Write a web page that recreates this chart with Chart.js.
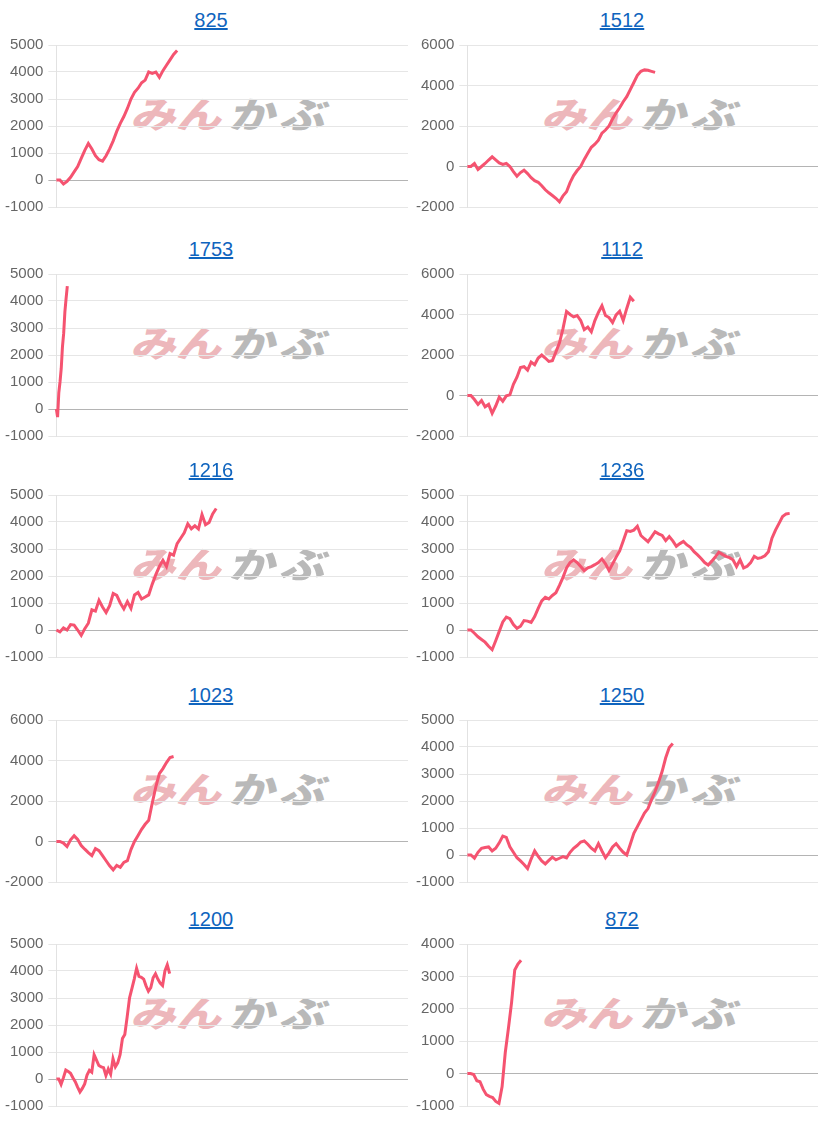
<!DOCTYPE html>
<html>
<head>
<meta charset="utf-8">
<script src="https://cdn.jsdelivr.net/npm/chart.js@4.4.0/dist/chart.umd.min.js"></script>
<style>
  body { margin: 0; background: #fff; }
  #grid { position: relative; width: 822px; height: 1125px; overflow: hidden; }
  .cell { position: absolute; width: 411px; height: 225px; }
  .title { position: absolute; top: 9px; left: 11px; width: 400px; text-align: center;
           font: 20px "Liberation Sans", Arial, sans-serif; line-height: 24px; }
  .title a { color: #0f64be; text-decoration: underline; }
  .wm { position: absolute; left: 134px; top: 94px; white-space: nowrap;
        font: 900 38px "Noto Sans CJK JP", sans-serif; line-height: 40px;
        transform: skewX(-14deg) scaleX(1.2) scaleY(0.95); transform-origin: left center; }
  .wm .p { color: #edb7bb; }
  .wm .g { color: #b9b9b9; margin-left: 6px; letter-spacing: 4px; }
  canvas { position: absolute; top: 32px; left: 0; }
</style>
</head>
<body>
<div id="grid"></div>
<script>
// stock codes, in page order (left to right, top to bottom)
const codes = ["825", "1512", "1753", "1112", "1216", "1236", "1023", "1250", "1200", "872"];

// cumulative values, one point per slot
const s825 = [0, 0, -150, -50, 100, 300, 500, 800, 1100, 1350, 1150, 900, 750, 700, 900, 1150, 1450, 1800,
  2100, 2350, 2650, 3000, 3250, 3400, 3600, 3700, 4000, 3950, 4000, 3800, 4050, 4250, 4450, 4650, 4800];
const s1512 = [0, 0, 150, -150, 0, 150, 320, 480, 330, 180, 100, 150, 0, -250, -480, -300, -180, -350, -550,
  -700, -780, -950, -1150, -1300, -1430, -1570, -1740, -1450, -1250, -800, -450, -200, 0, 350, 650, 950, 1100,
  1300, 1650, 1800, 2000, 2350, 2650, 2900, 3200, 3450, 3800, 4150, 4500, 4700, 4770, 4750, 4700, 4650];
const s1753 = [0, -300, 600, 1000, 1500, 2300, 2800, 3600, 4100, 4550];
const s1112 = [0, 0, -200, -440, -250, -560, -440, -880, -520, -80, -280, -20, 30, 550, 900, 1380, 1420, 1250,
  1650, 1520, 1850, 2000, 1850, 1680, 1720, 2150, 2600, 3300, 4150, 4000, 3880, 3950, 3700, 3250, 3380, 3150,
  3700, 4100, 4430, 3950, 3850, 3600, 3980, 4160, 3700, 4300, 4850, 4650];
const s1216 = [0, -70, 80, 0, 200, 180, 0, -200, 50, 250, 750, 700, 1100, 850, 650, 900, 1350, 1280, 1000,
  780, 1050, 800, 1300, 1390, 1150, 1220, 1300, 1700, 2050, 2350, 2580, 2350, 2830, 2770, 3200, 3400, 3600,
  3930, 3750, 3860, 3740, 4280, 3900, 3980, 4300, 4500];
const s1236 = [0, 0, -120, -250, -350, -450, -600, -730, -400, -50, 300, 480, 420, 200, 60, 140, 350, 330, 280,
  500, 800, 1080, 1210, 1150, 1280, 1380, 1650, 1950, 2300, 2500, 2600, 2500, 2350, 2200, 2300, 2350, 2420,
  2500, 2630, 2450, 2200, 2450, 2700, 2930, 3300, 3680, 3650, 3700, 3840, 3500, 3380, 3270, 3450, 3640, 3560,
  3500, 3310, 3460, 3300, 3100, 3200, 3280, 3150, 3060, 2900, 2780, 2650, 2500, 2410, 2550, 2700, 2880, 2800,
  2730, 2680, 2600, 2350, 2600, 2300, 2360, 2500, 2730, 2650, 2680, 2750, 2900, 3400, 3700, 3950, 4200, 4300, 4320];
const s1023 = [0, 0, -80, -250, 80, 280, 100, -200, -380, -550, -700, -350, -450, -700, -950, -1200, -1400,
  -1180, -1270, -1030, -950, -400, 0, 300, 600, 850, 1050, 1900, 2700, 3350, 3600, 3900, 4150, 4200];
const s1250 = [0, 0, -120, 100, 250, 280, 300, 150, 250, 450, 700, 650, 300, 100, -100, -220, -350, -500, -150,
  150, -50, -220, -330, -200, -80, -180, -120, -60, -110, 100, 250, 350, 480, 520, 400, 250, 150, 420, 150,
  -100, 80, 300, 420, 250, 100, 0, 400, 800, 1050, 1300, 1550, 1720, 2050, 2350, 2700, 3100, 3600, 3980, 4130];
const s1200 = [0, 0, -200, 50, 330, 280, 210, 50, -100, -300, -480, -350, -180, 150, 320, 250, 900, 700, 500,
  450, 420, 130, 370, 180, 750, 450, 600, 900, 1500, 1650, 2300, 3000, 3350, 3700, 4100, 3800, 3770, 3700,
  3450, 3250, 3380, 3750, 3900, 3700, 3550, 3460, 4000, 4230, 3900];
const s872 = [0, 0, -30, -220, -250, -480, -650, -700, -740, -860, -920, -400, 650, 1400, 2200, 3200, 3380, 3500];

const series = [s825, s1512, s1753, s1112, s1216, s1236, s1023, s1250, s1200, s872];

// number of x slots on each chart's axis
const slotCounts = [100, 100, 290, 100, 100, 100, 100, 100, 150, 112];

// y axis ranges
const yMins = [-1000, -2000, -1000, -2000, -1000, -1000, -2000, -1000, -1000, -1000];
const yMaxs = [5000, 6000, 5000, 6000, 5000, 5000, 6000, 5000, 5000, 4000];
const ySteps = [1000, 2000, 1000, 2000, 1000, 1000, 2000, 1000, 1000, 1000];

const rowTops = [-1, 228, 449, 674, 898];
const grid = document.getElementById("grid");

codes.forEach(function(code, i) {
  const col = i % 2, row = Math.floor(i / 2);
  const cell = document.createElement("div");
  cell.className = "cell";
  cell.style.left = (col * 411) + "px";
  cell.style.top = rowTops[row] + "px";
  cell.innerHTML =
    '<div class="title"><a href="#">' + code + '</a></div>' +
    '<div class="wm"><span class="p">みん</span><span class="g">かぶ</span></div>' +
    '<canvas width="411" height="190"></canvas>';
  grid.appendChild(cell);

  const labels = [];
  for (let k = 0; k < slotCounts[i]; k++) labels.push("");

  new Chart(cell.querySelector("canvas").getContext("2d"), {
    type: "line",
    data: {
      labels: labels,
      datasets: [{
        data: series[i],
        borderColor: "rgb(245, 83, 112)",
        borderWidth: 3,
        pointRadius: 0,
        tension: 0,
        fill: false
      }]
    },
    options: {
      responsive: false,
      animation: false,
      layout: { padding: { left: 0, right: col ? 4 : 3 } },
      plugins: { legend: { display: false }, tooltip: { enabled: false } },
      scales: {
        x: { display: false },
        y: {
          min: yMins[i],
          max: yMaxs[i],
          ticks: {
            stepSize: ySteps[i],
            color: "#666",
            padding: 5,
            font: { size: 15, family: "'Liberation Sans', Arial, sans-serif" },
            callback: function(v) { return String(v); }
          },
          grid: {
            color: function(c) { return c.tick && c.tick.value === 0 ? "#b4b4b4" : "#e6e6e6"; },
            tickLength: 8
          },
          border: { color: "#e2e2e2" }
        }
      }
    }
  });
});
</script>
</body>
</html>
